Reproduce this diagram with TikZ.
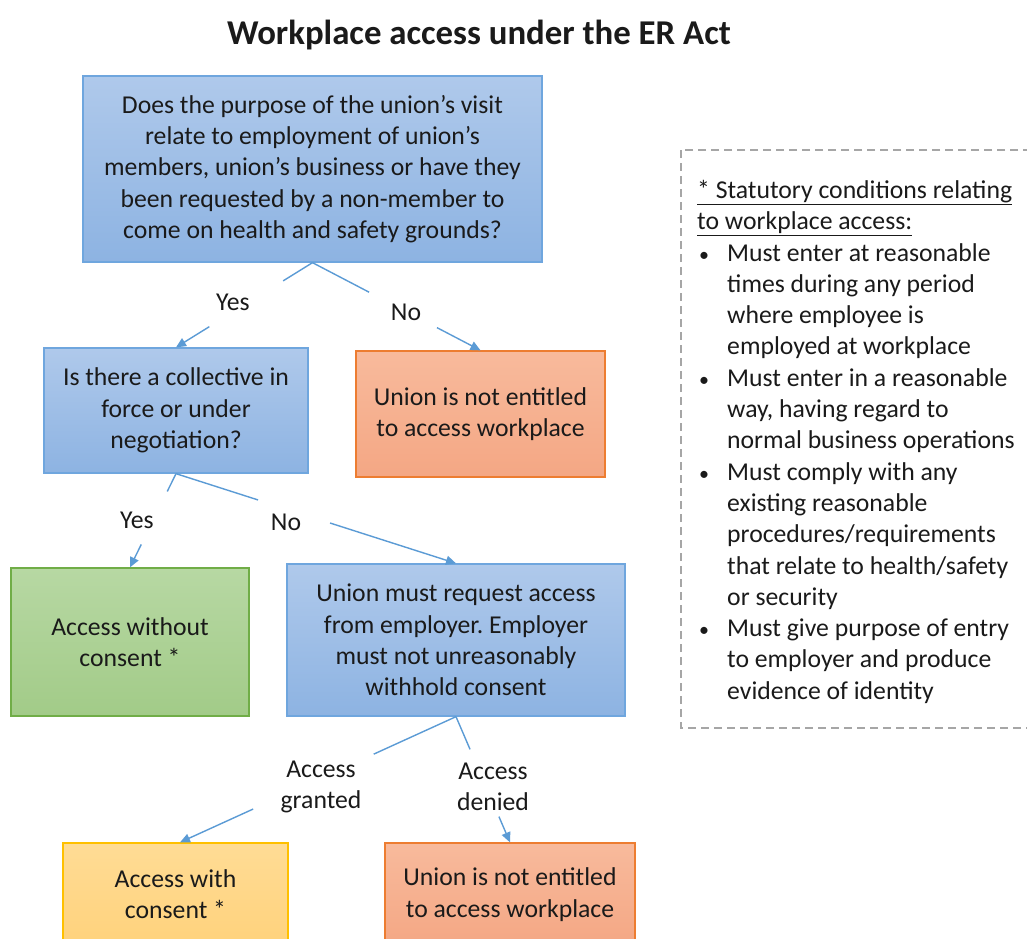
\documentclass[tikz,border=0pt]{standalone}
\usepackage{fontspec}
\setmainfont{Carlito}
\usetikzlibrary{arrows.meta,shadings}
\frenchspacing

% Office-style palette
\definecolor{txt}{HTML}{1A1A1A}
\definecolor{bluetop}{HTML}{AFC9EB}
\definecolor{bluebot}{HTML}{8DB3E2}
\definecolor{blueline}{HTML}{6FA6DE}
\definecolor{orgtop}{HTML}{F8BA9C}
\definecolor{orgbot}{HTML}{F4A784}
\definecolor{orgline}{HTML}{ED7D31}
\definecolor{grntop}{HTML}{B7D8A3}
\definecolor{grnbot}{HTML}{A2CB88}
\definecolor{grnline}{HTML}{70AD47}
\definecolor{yeltop}{HTML}{FFDC95}
\definecolor{yelbot}{HTML}{FFD27C}
\definecolor{yelline}{HTML}{FFC000}
\definecolor{arrowc}{HTML}{5B9BD5}
\definecolor{dashc}{HTML}{A6A6A6}

\newcommand{\bodyfont}{\fontsize{25.7}{31.3}\selectfont}
\newcommand{\bul}{\makebox[30pt][l]{\hspace{2pt}{\fontsize{20}{20}\selectfont •}}}
\newcommand{\cont}{\hspace*{30pt}}

\tikzset{
  box/.style={rectangle, line width=1.3pt, align=center, inner sep=0pt,
    font=\bodyfont, text=txt},
  bluebox/.style={box, draw=blueline, top color=bluetop, bottom color=bluebot},
  orgbox/.style={box, draw=orgline, top color=orgtop, bottom color=orgbot},
  grnbox/.style={box, draw=grnline, top color=grntop, bottom color=grnbot},
  yelbox/.style={box, draw=yelline, top color=yeltop, bottom color=yelbot},
  lbl/.style={font=\bodyfont, text=txt, inner sep=0pt, align=center},
  conn/.style={draw=arrowc, line width=1.4pt},
  tip/.style={conn, -{Triangle[length=10pt,width=9pt]}},
  dashbox/.style={draw=dashc, line width=1.2pt, dash pattern=on 8pt off 5pt},
}

\begin{document}
\begin{tikzpicture}[x=1pt,y=-1pt]
\useasboundingbox (0,0) rectangle (1027,938);
\clip (0,0) rectangle (1027,938);
\fill[white] (0,0) rectangle (1027,938);

% title
\node[font=\fontsize{34.8}{40}\selectfont\bfseries, text=txt, inner sep=0pt] (title) at (479,35)
  {Workplace access under the ER Act};

% decision and outcome boxes
\node[bluebox, minimum width=459pt, minimum height=186pt] (q1) at (312.5,169)
  {Does the purpose of the union’s visit\\relate to employment of union’s\\members, union’s business or have they\\been requested by a non-member to\\come on health and safety grounds?};
\node[bluebox, minimum width=264pt, minimum height=125pt] (q2) at (176,410.5)
  {Is there a collective in\\force or under\\negotiation?};
\node[orgbox, minimum width=249pt, minimum height=126pt] (n1) at (480.5,414)
  {Union is not entitled\\to access workplace};
\node[grnbox, minimum width=238pt, minimum height=148pt] (a1) at (130,642)
  {Access without\\consent *};
\node[bluebox, minimum width=338pt, minimum height=152pt] (q3) at (456,640)
  {Union must request access\\from employer. Employer\\must not unreasonably\\withhold consent};
\node[yelbox, minimum width=225pt, minimum height=103pt] (a2) at (175.5,894.5)
  {Access with\\consent *};
\node[orgbox, minimum width=250pt, minimum height=103pt] (n2) at (510,894.5)
  {Union is not entitled\\to access workplace};

% branch labels
\node[lbl] (l1) at (233,302) {Yes};
\node[lbl] (l2) at (406,312) {No};
\node[lbl] (l3) at (137,520) {Yes};
\node[lbl] (l4) at (286,522) {No};
\node[lbl] (l5) at (321,787) {Access\\granted};
\node[lbl] (l6) at (493,787) {Access\\denied};

% connectors, broken where the label sits
\path (q1.south) -- (q2.north) coordinate[pos=0.215] (c1a) coordinate[pos=0.756] (c1b);
\draw[conn] (q1.south) -- (c1a);
\draw[tip] (c1b) -- (q2.north);

\path (q1.south) -- (n1.north) coordinate[pos=0.337] (c2a) coordinate[pos=0.741] (c2b);
\draw[conn] (q1.south) -- (c2a);
\draw[tip] (c2b) -- (n1.north);

\path (q2.south) -- (a1.north) coordinate[pos=0.19] (c3a) coordinate[pos=0.755] (c3b);
\draw[conn] (q2.south) -- (c3a);
\draw[tip] (c3b) -- (a1.north);

\path (q2.south) -- (q3.north) coordinate[pos=0.293] (c4a) coordinate[pos=0.55] (c4b);
\draw[conn] (q2.south) -- (c4a);
\draw[tip] (c4b) -- (q3.north);

\path (q3.south) -- ([xshift=4.5pt]a2.north) coordinate[pos=0.298] (c5a) coordinate[pos=0.735] (c5b);
\draw[conn] (q3.south) -- (c5a);
\draw[tip] (c5b) -- ([xshift=4.5pt]a2.north);

\path (q3.south) -- (n2.north) coordinate[pos=0.26] (c6a) coordinate[pos=0.795] (c6b);
\draw[conn] (q3.south) -- (c6a);
\draw[tip] (c6b) -- (n2.north);

% statutory conditions panel
\draw[dashbox] (681,150) rectangle (1045,728);
\node[lbl, align=left, anchor=north west] (cond) at (697,180)
  {\underline{* Statutory conditions relating}\\
   \underline{to workplace access:}\\
   \bul Must enter at reasonable\\
   \cont times during any period\\
   \cont where employee is\\
   \cont employed at workplace\\
   \bul Must enter in a reasonable\\
   \cont way, having regard to\\
   \cont normal business operations\\
   \bul Must comply with any\\
   \cont existing reasonable\\
   \cont procedures/requirements\\
   \cont that relate to health/safety\\
   \cont or security\\
   \bul Must give purpose of entry\\
   \cont to employer and produce\\
   \cont evidence of identity};
\end{tikzpicture}
\end{document}
